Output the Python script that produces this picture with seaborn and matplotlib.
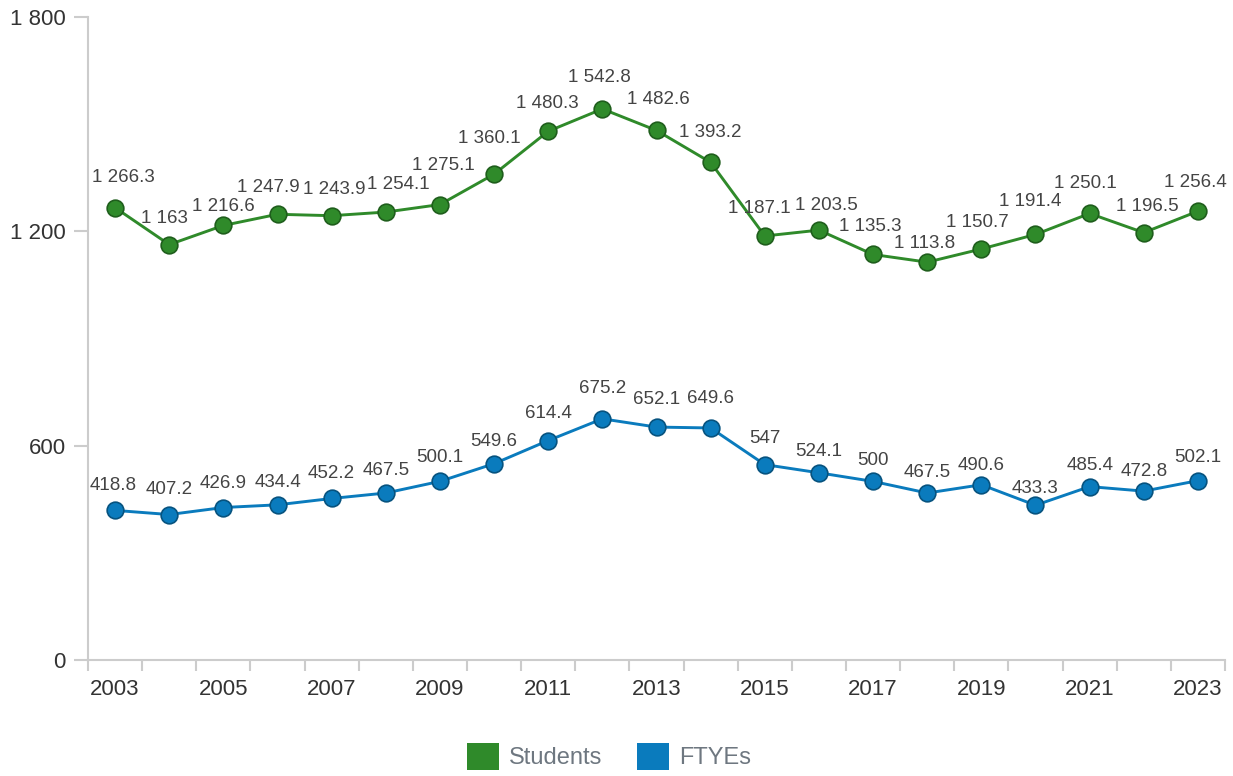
import pandas as pd
import seaborn as sns
import matplotlib.pyplot as plt
from matplotlib.patches import Patch

years = list(range(2003, 2024))
students = [1266.3, 1163, 1216.6, 1247.9, 1243.9, 1254.1, 1275.1, 1360.1, 1480.3, 1542.8,
            1482.6, 1393.2, 1187.1, 1203.5, 1135.3, 1113.8, 1150.7, 1191.4, 1250.1, 1196.5, 1256.4]
ftyes = [418.8, 407.2, 426.9, 434.4, 452.2, 467.5, 500.1, 549.6, 614.4, 675.2,
         652.1, 649.6, 547, 524.1, 500, 467.5, 490.6, 433.3, 485.4, 472.8, 502.1]
series_names = ["Students", "FTYEs"]
colors = {"Students": "#2f8a2a", "FTYEs": "#0a7bbd"}
edges = {"Students": "#1f5e1c", "FTYEs": "#07537f"}
y_ticks = [0, 600, 1200, 1800]

# label placement (pixel shift of label centre from its point), mimics the original layout
label_dx = {
    "Students": [8, -5, 0, -9, 3, 13, 3, -5, -1, -3, 2, 0, -5, 7, -3, -3, -4, -5, -4, 4, -3],
    "FTYEs": [-2, 0, 0, 0, 0, 0, 0, 0, 0, 0, 0, 0, 0, 0, 0, 0, 0, 0, 0, 0, 0],
}
label_dy = {
    "Students": [30, 26, 19, 27, 26, 28, 39, 36, 28, 31, 31, 30, 27, 25, 28, 19, 26, 33, 30, 26, 29],
    "FTYEs": [25, 25, 24, 22, 25, 23, 24, 22, 27, 30, 28, 29, 26, 21, 21, 21, 19, 17, 21, 20, 23],
}


def fmt(v):
    s = f"{v:,.1f}".replace(",", " ")
    if s.endswith(".0"):
        s = s[:-2]
    return s


df = pd.DataFrame({
    "pos": list(range(len(years))) * 2,
    "value": students + ftyes,
    "series": ["Students"] * len(years) + ["FTYEs"] * len(years),
})

sns.set_theme(style="white")
plt.rcParams['font.family'] = ['Liberation Sans', 'DejaVu Sans']

fig = plt.figure(figsize=(12.33, 7.76), dpi=100)
ax = fig.add_axes([0.0714, 0.1495, 0.9221, 0.8285])

px = 72 / fig.dpi
for name in series_names:
    sub = df[df["series"] == name]
    sns.lineplot(data=sub, x="pos", y="value", ax=ax, color=colors[name], linewidth=2.1,
                 marker="o", markersize=12, markeredgecolor=edges[name], markeredgewidth=1.2,
                 legend=False, zorder=3)
    for i, (x, v) in enumerate(zip(sub["pos"], sub["value"])):
        ax.annotate(fmt(v), (x, v),
                    xytext=(label_dx[name][i] * px, label_dy[name][i] * px),
                    textcoords="offset points", ha="center", va="center",
                    fontsize=13.5, color="#444444")

ax.set_xlim(-0.5, len(years) - 0.5)
ax.set_ylim(0, 1800)
ax.set_yticks(y_ticks)
ax.set_yticklabels([fmt(t) for t in y_ticks])
ax.set_xticks(range(0, len(years), 2))
ax.set_xticklabels([str(y) for y in years[::2]])
ax.set_xticks([i - 0.5 for i in range(len(years) + 1)], minor=True)
ax.tick_params(axis="x", which="major", length=0, pad=14, labelsize=16, labelcolor="#333333")
ax.tick_params(axis="x", which="minor", length=8, width=1.5, color="#cccccc", bottom=True)
ax.tick_params(axis="y", length=10, width=1.5, color="#cccccc", left=True, labelsize=16,
               labelcolor="#333333", pad=6)
ax.set_xlabel("")
ax.set_ylabel("")
for side in ["top", "right"]:
    ax.spines[side].set_visible(False)
for side in ["left", "bottom"]:
    ax.spines[side].set_color("#cccccc")
    ax.spines[side].set_linewidth(1.5)
ax.grid(False)

handles = [Patch(facecolor=colors[n], edgecolor="none", label=n) for n in series_names]
leg = fig.legend(handles=handles, loc="center", bbox_to_anchor=(0.494, 0.025), ncol=2,
                 frameon=False, fontsize=17, handlelength=1.35, handleheight=1.35,
                 handletextpad=0.4, columnspacing=1.5)
for t in leg.get_texts():
    t.set_color("#6e7780")

fig.savefig("out.png", dpi=100)
